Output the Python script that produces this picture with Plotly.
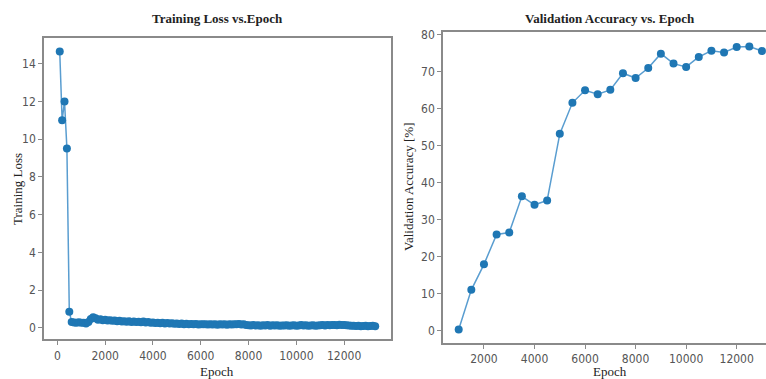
import plotly.graph_objects as go

# ---------------- data ----------------
loss_epochs = list(range(100, 13400, 100))
train_loss = [14.65, 11.0, 12.0, 9.5, 0.85,
              0.30, 0.28, 0.27, 0.29, 0.26, 0.27, 0.22, 0.31, 0.47, 0.55,
              0.50, 0.42, 0.45, 0.40, 0.42, 0.38, 0.40, 0.37, 0.39, 0.35,
              0.37, 0.33, 0.35, 0.32, 0.34, 0.31, 0.33, 0.30, 0.32, 0.29,
              0.33, 0.28, 0.30, 0.26, 0.28, 0.25, 0.27, 0.24, 0.26, 0.23,
              0.25, 0.22, 0.24, 0.21, 0.23, 0.20, 0.22, 0.19, 0.21, 0.19,
              0.20, 0.18, 0.20, 0.17, 0.19, 0.18, 0.19, 0.17, 0.18, 0.17,
              0.18, 0.16, 0.18, 0.17, 0.19, 0.16, 0.18, 0.17, 0.19, 0.18,
              0.20, 0.17, 0.19, 0.15, 0.13, 0.12, 0.14, 0.12, 0.13, 0.11,
              0.13, 0.12, 0.14, 0.11, 0.13, 0.12, 0.13, 0.11, 0.12, 0.12,
              0.13, 0.11, 0.12, 0.13, 0.11, 0.12, 0.14, 0.12, 0.13, 0.11,
              0.12, 0.13, 0.11, 0.12, 0.13, 0.14, 0.12, 0.15, 0.13, 0.14,
              0.15, 0.13, 0.16, 0.14, 0.15, 0.13, 0.12, 0.10, 0.11, 0.09,
              0.10, 0.08, 0.09, 0.10, 0.08, 0.09, 0.10, 0.08]

acc_epochs = [1000, 1500, 2000, 2500, 3000, 3500, 4000, 4500, 5000, 5500,
              6000, 6500, 7000, 7500, 8000, 8500, 9000, 9500, 10000, 10500,
              11000, 11500, 12000, 12500, 13000]
val_acc = [0.3, 11.0, 17.9, 26.0, 26.5, 36.3, 34.0, 35.2, 53.2, 61.6,
           65.0, 63.9, 65.1, 69.6, 68.3, 71.0, 74.9, 72.2, 71.3, 74.0,
           75.7, 75.2, 76.7, 76.8, 75.6]

loss_xticks = [0, 2000, 4000, 6000, 8000, 10000, 12000]
loss_yticks = [0, 2, 4, 6, 8, 10, 12, 14]
acc_xticks = [2000, 4000, 6000, 8000, 10000, 12000]
acc_yticks = [0, 10, 20, 30, 40, 50, 60, 70, 80]

# ---------------- style ----------------
BLUE = "#1f77b4"
LINE = "rgba(60,140,200,0.85)"
FRAME = "#8a8a8a"
TICKFONT = dict(family="DejaVu Sans Condensed, DejaVu Sans, sans-serif", size=12, color="#555555")
SERIF = "Liberation Serif, Times New Roman, serif"

fig = go.Figure()
fig.add_trace(go.Scatter(x=loss_epochs, y=train_loss, mode="lines+markers",
                         line=dict(color=LINE, width=1.5),
                         marker=dict(color=BLUE, size=8),
                         xaxis="x", yaxis="y", showlegend=False))
fig.add_trace(go.Scatter(x=acc_epochs, y=val_acc, mode="lines+markers",
                         line=dict(color=LINE, width=1.5),
                         marker=dict(color=BLUE, size=8),
                         xaxis="x2", yaxis="y2", showlegend=False))

axis_common = dict(showgrid=False, zeroline=False, showline=True, linecolor=FRAME,
                   linewidth=1.5, ticks="outside", ticklen=4, tickcolor=FRAME,
                   tickfont=TICKFONT)

fig.update_layout(
    width=766, height=379, autosize=False,
    margin=dict(l=0, r=0, t=0, b=0),
    paper_bgcolor="white", plot_bgcolor="white",
    xaxis=dict(domain=[0.0574, 0.5104], range=[-560, 13960], tickvals=loss_xticks,
               ticktext=[str(v) for v in loss_xticks],
               mirror=True, anchor="y", **axis_common),
    yaxis=dict(domain=[0.1055, 0.9103], range=[-0.62, 15.38], tickvals=loss_yticks,
               ticktext=[str(v) for v in loss_yticks],
               mirror=True, anchor="x", **axis_common),
    xaxis2=dict(domain=[0.5783, 1.0], range=[378, 13160], tickvals=acc_xticks,
                ticktext=[str(v) for v in acc_xticks],
                mirror=True, anchor="y2", **axis_common),
    yaxis2=dict(domain=[0.0958, 0.9248], range=[-3.4, 80.7], tickvals=acc_yticks,
                ticktext=[str(v) for v in acc_yticks],
                mirror=False, anchor="x2", **axis_common),
)

def ann(text, x, y, size, bold=False, angle=0):
    fig.add_annotation(text=("<b>%s</b>" % text) if bold else text,
                       x=x, y=y, xref="paper", yref="paper",
                       showarrow=False, textangle=angle,
                       font=dict(family=SERIF, size=size, color="#222222"),
                       xanchor="center", yanchor="middle")

ann("Training Loss vs.Epoch", 217 / 766, 1 - 15 / 379, 13, bold=True)
ann("Validation Accuracy vs. Epoch", 610 / 766, 1 - 15 / 379, 13, bold=True)
ann("Epoch", 217 / 766, 1 - 371 / 379, 13)
ann("Epoch", 610 / 766, 1 - 371 / 379, 13)
ann("Training Loss", 17 / 766, 1 - 187 / 379, 13, angle=-90)
ann("Validation Accuracy [%]", 408 / 766, 1 - 185 / 379, 13, angle=-90)

fig.write_html("out.html", config={"displayModeBar": False},
               post_script="document.body.style.margin='0px';document.body.style.overflow='hidden';")
